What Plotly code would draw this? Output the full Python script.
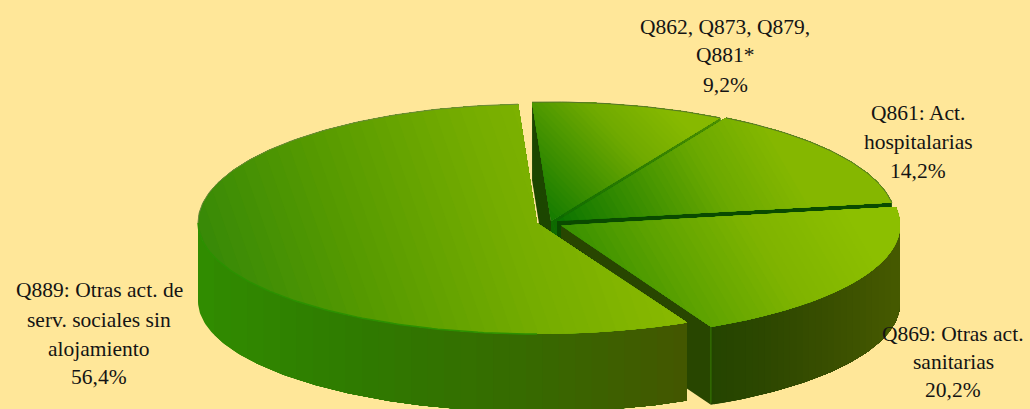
import math
import plotly.graph_objects as go

# ---- data (counter-clockwise, starting at the top of the pie) ----
categories = ["Q889", "Q869", "Q861", "Q862"]
values = [56.4, 20.2, 14.2, 9.2]
label_lines = [
    ["Q889: Otras act. de", "serv. sociales sin", "alojamiento", "56,4%"],
    ["Q869: Otras act.", "sanitarias", "20,2%"],
    ["Q861: Act.", "hospitalarias", "14,2%"],
    ["Q862, Q873, Q879,", "Q881*", "9,2%"],
]
label_x = [99, 953, 918, 725]
label_y = [
    [290, 320, 349, 377],
    [334, 362, 390],
    [113, 142, 171],
    [27, 55, 85],
]

# ---- pie geometry (projection of a tilted disc) ----
START_ANGLE = 93.2
RX = 339
RY_FAR = 119
RY_NEAR = {"Q889": 111, "Q869": 113, "Q861": 113, "Q862": 113}
DEPTH = 78
centers = {"Q889": (537, 223), "Q869": (561, 225.5), "Q861": (557, 221), "Q862": (551, 221)}

# gradient: (from point, to point, colour stops)
top_grad = {
    "Q889": ((198, 262), (620, 115), ["#358808", "#569a00", "#74ac00", "#8aba00"]),
    "Q869": ((600, 330), (840, 190), ["#2f8c00", "#5da200", "#7fb400", "#8dbf00"]),
    "Q861": ((560, 225), (760, 110), ["#0a7400", "#3a8e00", "#6aa800", "#86b800"]),
    "Q862": ((545, 225), (670, 105), ["#0d7800", "#3f9000", "#70aa00", "#88ba00"]),
}
side_grad = {
    "Q889": ((198, 0), (690, 0), ["#308c00", "#2f7a00", "#366a00", "#445600"]),
    "Q869": ((708, 0), (897, 0), ["#234400", "#2e4800", "#3a4f00", "#465a00"]),
}
wall_color = {"Q862": "#1c4600", "Q861": "#0a4a00", "Q869": "#284600"}
strip_stops = ["#0d6a00", "#2f7c00", "#4c8e00"]


def hex2rgb(h):
    return tuple(int(h[i:i + 2], 16) for i in (1, 3, 5))


def mix(stops, t):
    t = min(max(t, 0), 1) * (len(stops) - 1)
    i = min(int(t), len(stops) - 2)
    f = t - i
    a, b = hex2rgb(stops[i]), hex2rgb(stops[i + 1])
    return "rgb(%d,%d,%d)" % tuple(round(a[k] + (b[k] - a[k]) * f) for k in range(3))


def rim(name, a):
    c = centers[name]
    r = math.radians(a)
    s = math.sin(r)
    return c[0] + RX * math.cos(r), c[1] - (RY_FAR if s > 0 else RY_NEAR[name]) * s


def arc(name, a0, a1, dy=0):
    n = max(int(abs(a1 - a0)), 2)
    pts = [rim(name, a0 + (a1 - a0) * i / n) for i in range(n + 1)]
    return [(x, y + dy) for x, y in pts]


def clip(poly, p0, d, level):
    # keep the part of poly whose projection on d is at least level
    out = []
    f = lambda p: ((p[0] - p0[0]) * d[0] + (p[1] - p0[1]) * d[1]) / (d[0] ** 2 + d[1] ** 2) - level
    for i, p in enumerate(poly):
        q = poly[(i + 1) % len(poly)]
        fp, fq = f(p), f(q)
        if fp >= 0:
            out.append(p)
        if fp * fq < 0:
            u = fp / (fp - fq)
            out.append((p[0] + (q[0] - p[0]) * u, p[1] + (q[1] - p[1]) * u))
    return out


fig = go.Figure()


def add_poly(poly, color):
    fig.add_trace(go.Scatter(
        x=[p[0] for p in poly] + [poly[0][0]],
        y=[p[1] for p in poly] + [poly[0][1]],
        mode="lines", fill="toself", fillcolor=color,
        line=dict(width=0, color=color), hoverinfo="skip", showlegend=False))


def add_gradient(poly, grad, steps=36):
    a, b, stops = grad
    d = (b[0] - a[0], b[1] - a[1])
    add_poly(poly, mix(stops, 0))
    for i in range(1, steps):
        part = clip(poly, a, d, i / steps)
        if len(part) >= 3:
            add_poly(part, mix(stops, (i + 0.5) / steps))


def add_line(pts, color, width=1):
    fig.add_trace(go.Scatter(
        x=[p[0] for p in pts], y=[p[1] for p in pts], mode="lines",
        line=dict(width=width, color=color), hoverinfo="skip", showlegend=False))


def face(name, a):
    c = centers[name]
    e = rim(name, a)
    return [c, e, (e[0], e[1] + DEPTH), (c[0], c[1] + DEPTH)]


# angular extent of each slice, from the values
total = sum(values)
spans = {}
ang = START_ANGLE
for name, v in zip(categories, values):
    spans[name] = (ang, ang + v / total * 360)
    ang = spans[name][1]

# back slices first, the big front slice last
for name in ["Q862", "Q861", "Q869", "Q889"]:
    c = centers[name]
    a0, a1 = spans[name]
    if name == "Q862":
        add_poly(face(name, a1), wall_color[name])
        add_gradient(face(name, a0), (c, rim(name, a0), strip_stops), 14)
    if name in ("Q861", "Q869"):
        add_poly(face(name, a0), wall_color[name])
    if name in side_grad:
        s0 = max(a0, 180)
        s1 = min(a1, 360)
        add_gradient(arc(name, s0, s1) + arc(name, s1, s0, DEPTH), side_grad[name], 30)
    if name == "Q869":
        e = rim(name, a0)
        add_line([e, (e[0], e[1] + DEPTH - 2)], "#2f6a00", 1.5)
    add_gradient([c] + arc(name, a0, a1), top_grad[name])
    if name in ("Q862", "Q861"):
        add_line(arc(name, a0, a1), "#56752a", 1)
    if name == "Q889":
        add_line(arc(name, a0, 180), "#6b8a3a", 1)
        add_line(arc(name, 180, 270), "#2c9000", 1.5)

# labels
for lines, x, ys in zip(label_lines, label_x, label_y):
    for line, y in zip(lines, ys):
        fig.add_annotation(x=x, y=y, text=line, showarrow=False, xanchor="center", yanchor="middle",
                           font=dict(family="Liberation Serif", size=21.5, color="#141414"))

fig.update_layout(
    width=1030, height=409, margin=dict(l=0, r=0, t=0, b=0),
    paper_bgcolor="#FFE799", plot_bgcolor="#FFE799", showlegend=False,
    xaxis=dict(range=[0, 1030], visible=False, fixedrange=True),
    yaxis=dict(range=[409, 0], visible=False, fixedrange=True),
)
fig.write_html("out.html", config={"displayModeBar": False},
               post_script="document.body.style.margin='0';document.body.style.overflow='hidden';")
